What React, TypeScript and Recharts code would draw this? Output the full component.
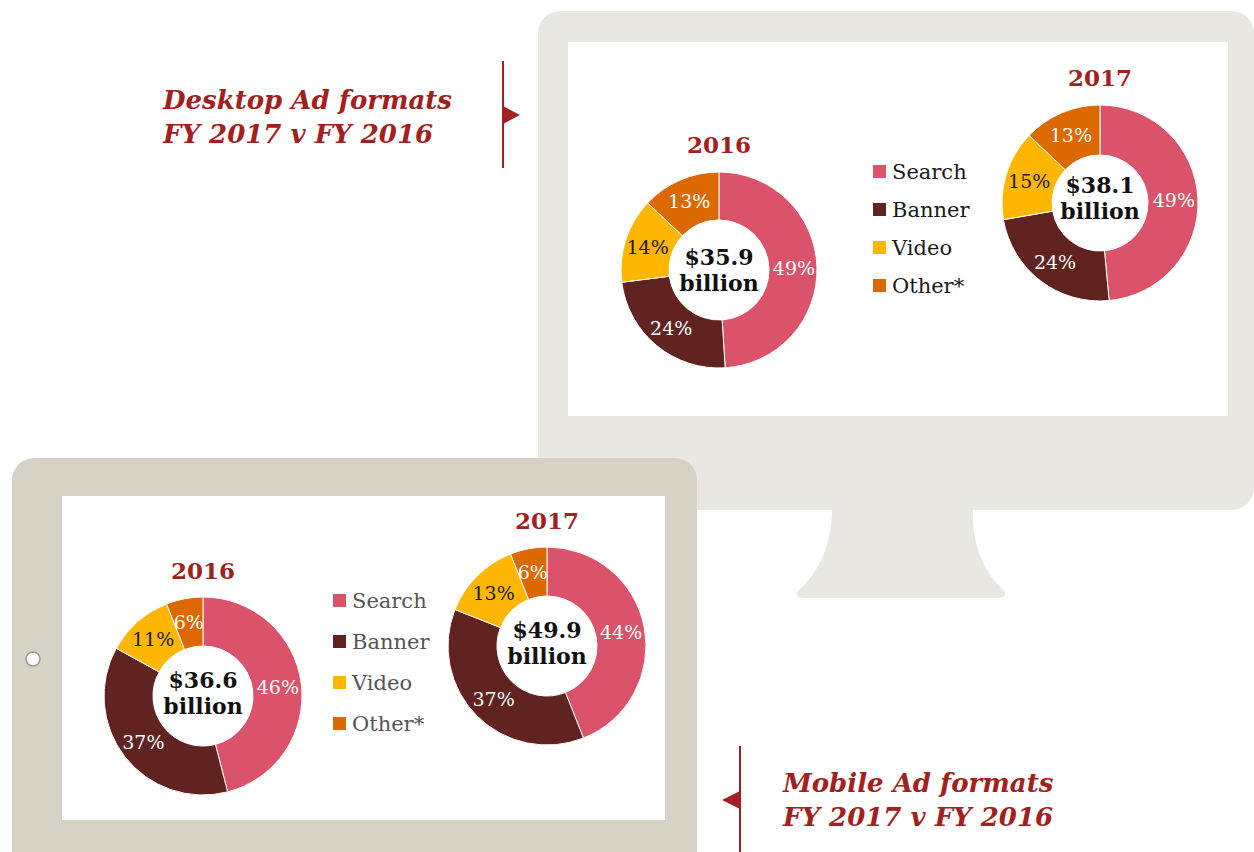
import { PieChart, Pie, Cell, Label } from "recharts";

const categories = ["Search", "Banner", "Video", "Other*"];
const colors = ["#db536a", "#602320", "#ffb600", "#dc6900"];
const labelColors = ["#ffffff", "#ffffff", "#1a1a1a", "#ffffff"];

const years = ["2016", "2017"];
const desktop2016 = [49, 24, 14, 13];
const desktop2017 = [49, 24, 15, 13];
const mobile2016 = [46, 37, 11, 6];
const mobile2017 = [44, 37, 13, 6];
const desktopTotals = ["$35.9", "$38.1"];
const mobileTotals = ["$36.6", "$49.9"];

const SERIF = "'DejaVu Serif', 'Liberation Serif', serif";
const RED = "#a32020";
const SIZE = 220;

type DonutProps = {
  values: number[];
  total: string;
  year: string;
  cx: number;
  cy: number;
  inner?: number;
  outer?: number;
  textShift?: number;
};

const RAD = Math.PI / 180;

function renderPct(p: any) {
  const r = (p.innerRadius + p.outerRadius) / 2 + 1;
  const x = p.cx + r * Math.cos(-p.midAngle * RAD);
  const y = p.cy + r * Math.sin(-p.midAngle * RAD);
  return (
    <text
      x={x}
      y={y}
      fill={labelColors[p.index]}
      textAnchor="middle"
      dominantBaseline="central"
      fontSize={19}
      fontFamily={SERIF}
    >
      {p.value}%
    </text>
  );
}

function Donut({ values, total, year, cx, cy, inner = 50, outer = 98, textShift = 0 }: DonutProps) {
  const data = categories.map((name, i) => ({ name, value: values[i] }));
  return (
    <>
      <div
        style={{
          position: "absolute",
          left: cx - 60,
          top: cy - 139,
          width: 120,
          textAlign: "center",
          fontFamily: SERIF,
          fontWeight: "bold",
          fontSize: 23,
          color: RED,
        }}
      >
        {year}
      </div>
      <div style={{ position: "absolute", left: cx - SIZE / 2, top: cy - SIZE / 2 }}>
        <PieChart width={SIZE} height={SIZE}>
          <Pie
            data={data}
            dataKey="value"
            cx="50%"
            cy="50%"
            innerRadius={inner}
            outerRadius={outer}
            startAngle={90}
            endAngle={-270}
            stroke="#ffffff"
            strokeWidth={1}
            labelLine={false}
            label={renderPct}
            isAnimationActive={false}
          >
            {data.map((d, i) => (
              <Cell key={d.name} fill={colors[i]} />
            ))}
            <Label
              position="center"
              content={(props: any) => {
                const vb = props.viewBox || {};
                const x = vb.cx ?? SIZE / 2;
                const y = (vb.cy ?? SIZE / 2) + textShift;
                return (
                  <text
                    textAnchor="middle"
                    fontFamily={SERIF}
                    fontWeight="bold"
                    fontSize={22}
                    fill="#111"
                  >
                    <tspan x={x} y={y - 5}>{total}</tspan>
                    <tspan x={x} y={y + 21}>billion</tspan>
                  </text>
                );
              }}
            />
          </Pie>
        </PieChart>
      </div>
    </>
  );
}

function LegendBox({ x, y, gap, color }: { x: number; y: number; gap: number; color: string }) {
  return (
    <>
      {categories.map((c, i) => (
        <g key={c}>
          <rect x={x} y={y + i * gap - 7} width={13} height={13} fill={colors[i]} />
          <text x={x + 19} y={y + i * gap + 7} fontFamily={SERIF} fontSize={21} fill={color}>
            {c}
          </text>
        </g>
      ))}
    </>
  );
}

export default function App() {
  return (
    <div
      style={{
        position: "absolute",
        left: 0,
        top: 0,
        width: 1254,
        height: 852,
        overflow: "hidden",
        background: "#ffffff",
      }}
    >
      <svg width={1254} height={852} style={{ position: "absolute", left: 0, top: 0 }}>
        {/* monitor */}
        <rect x={538} y={11} width={716} height={499} rx={22} fill="#e8e7e1" />
        <rect x={568} y={42} width={660} height={374} fill="#ffffff" />
        <path d="M832 505 L973 505 Q970 560 1005 592 Q1006 598 998 598 L805 598 Q796 598 797 592 Q833 560 832 505 Z" fill="#e8e7e1" />
        {/* tablet */}
        <rect x={12} y={458} width={685} height={430} rx={22} fill="#d6d2c5" />
        <rect x={62} y={496} width={603} height={324} fill="#ffffff" />
        <circle cx={33} cy={659} r={7} fill="#ffffff" stroke="#9a978f" strokeWidth={1.5} />

        {/* desktop title */}
        <line x1={503} y1={61} x2={503} y2={168} stroke={RED} strokeWidth={2} />
        <path d="M503 106 L520 115 L503 124 Z" fill={RED} />
        <text fontFamily={SERIF} fontWeight="bold" fontStyle="italic" fontSize={26} fill={RED}>
          <tspan x={163} y={109}>Desktop Ad formats</tspan>
          <tspan x={163} y={143}>FY 2017 v FY 2016</tspan>
        </text>

        {/* mobile title */}
        <line x1={740} y1={746} x2={740} y2={852} stroke={RED} strokeWidth={2} />
        <path d="M740 791 L722 800 L740 809 Z" fill={RED} />
        <text fontFamily={SERIF} fontWeight="bold" fontStyle="italic" fontSize={26} fill={RED}>
          <tspan x={783} y={792}>Mobile Ad formats</tspan>
          <tspan x={783} y={826}>FY 2017 v FY 2016</tspan>
        </text>

        <LegendBox x={873} y={172} gap={38} color="#1a1a1a" />
        <LegendBox x={333} y={601} gap={41} color="#555555" />
      </svg>

      <Donut values={desktop2016} total={desktopTotals[0]} year={years[0]} cx={719} cy={270} />
      <Donut values={desktop2017} total={desktopTotals[1]} year={years[1]} cx={1100} cy={203} inner={48} textShift={-5} />
      <Donut values={mobile2016} total={mobileTotals[0]} year={years[0]} cx={203} cy={696} outer={99} textShift={-3} />
      <Donut values={mobile2017} total={mobileTotals[1]} year={years[1]} cx={547} cy={646} outer={99} textShift={-3} />
    </div>
  );
}
